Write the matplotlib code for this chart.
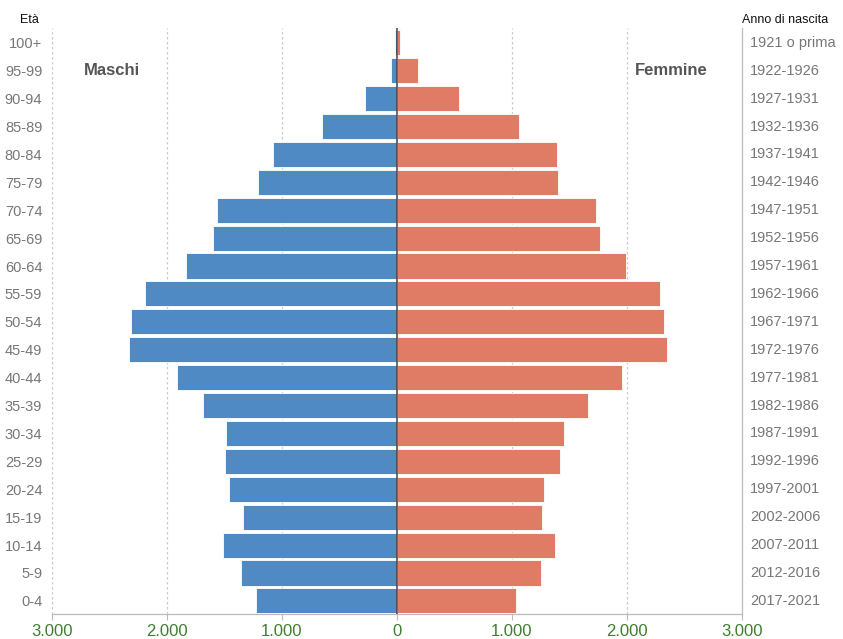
import matplotlib
matplotlib.use("Agg")
import matplotlib.pyplot as plt
from matplotlib.ticker import FuncFormatter, FixedLocator
import matplotlib.transforms as mtransforms

plt.rcParams['font.family'] = ['Liberation Sans', 'DejaVu Sans']

age_groups = ["0-4", "5-9", "10-14", "15-19", "20-24", "25-29", "30-34", "35-39",
              "40-44", "45-49", "50-54", "55-59", "60-64", "65-69", "70-74", "75-79",
              "80-84", "85-89", "90-94", "95-99", "100+"]
birth_years = ["2017-2021", "2012-2016", "2007-2011", "2002-2006", "1997-2001",
               "1992-1996", "1987-1991", "1982-1986", "1977-1981", "1972-1976",
               "1967-1971", "1962-1966", "1957-1961", "1952-1956", "1947-1951",
               "1942-1946", "1937-1941", "1932-1936", "1927-1931", "1922-1926",
               "1921 o prima"]
males = [1228, 1355, 1509, 1335, 1463, 1497, 1489, 1686, 1917, 2330, 2310, 2194,
         1836, 1600, 1567, 1205, 1075, 650, 276, 56, 17]
females = [1037, 1254, 1373, 1263, 1275, 1420, 1451, 1665, 1960, 2351, 2319, 2285,
           1990, 1764, 1730, 1396, 1391, 1057, 537, 181, 30]

x_ticks = [-3000, -2000, -1000, 0, 1000, 2000, 3000]

blue = "#4f8ac4"
red = "#e07b65"

fig = plt.figure(figsize=(8.43, 6.39), dpi=100)
ax = fig.add_axes([52/843, 1 - 614/639, (742-52)/843, (614-28)/639])

y = list(range(len(age_groups)))
ax.barh(y, [-m for m in males], height=0.9, color=blue, edgecolor="white", linewidth=0.6, zorder=3)
ax.barh(y, females, height=0.9, color=red, edgecolor="white", linewidth=0.6, zorder=3)

ax.set_xlim(-3000, 3000)
ax.set_ylim(-0.47, 20.53)

# grid
for xv in [-3000, -2000, -1000, 1000, 2000]:
    ax.axvline(xv, color="#cccccc", linestyle=(0, (2, 2)), linewidth=0.9, zorder=1)
ax.axvline(0, color="#444444", linewidth=1.1, zorder=4)

for s in ["top", "left"]:
    ax.spines[s].set_visible(False)
ax.spines["bottom"].set_color("#bbbbbb")
ax.spines["right"].set_color("#bbbbbb")
ax.spines["bottom"].set_linewidth(0.9)
ax.spines["right"].set_linewidth(0.9)

ax.xaxis.set_major_locator(FixedLocator(x_ticks))
ax.xaxis.set_major_formatter(FuncFormatter(lambda v, p: f"{abs(int(v)):,}".replace(",", ".")))
ax.tick_params(axis="x", colors="#bbbbbb", length=4, labelcolor="#3d7f2e", labelsize=12, pad=3)

ax.set_yticks(y)
ax.set_yticklabels(age_groups)
ax.tick_params(axis="y", length=0, labelcolor="#777777", labelsize=10.5, pad=7)

trans = mtransforms.blended_transform_factory(ax.transAxes, ax.transData)
for yi, lab in zip(y, birth_years):
    ax.text(1 + 8/690, yi, lab, transform=trans, ha="left", va="center",
            color="#777777", fontsize=10.5)

fig.text(20/843, 1 - 20/639, "Età", ha="left", va="center", fontsize=9, color="#111111")
fig.text(742/843, 1 - 20/639, "Anno di nascita", ha="left", va="center", fontsize=9, color="#111111")

ax.text(-2720, 19.0, "Maschi", ha="left", va="center", fontsize=12, fontweight="bold", color="#555555")
ax.text(2700, 19.0, "Femmine", ha="right", va="center", fontsize=12, fontweight="bold", color="#555555")

fig.savefig("out.png", dpi=100, facecolor="white")
